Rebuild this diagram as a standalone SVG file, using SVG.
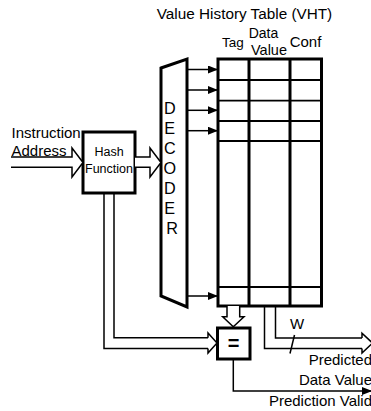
<svg xmlns="http://www.w3.org/2000/svg" width="371" height="411" viewBox="0 0 371 411">
<style>
text{font-family:"Liberation Sans",Arial,sans-serif;fill:#000}
.thick{fill:none;stroke:#000;stroke-width:3}
.thin{fill:none;stroke:#000;stroke-width:1.5}
.row{fill:none;stroke:#000;stroke-width:1.8}
.hollow{fill:#fff;stroke:#000;stroke-width:1.5;stroke-linejoin:miter}
</style>
<defs>
<marker id="ah" markerWidth="10" markerHeight="8" refX="10" refY="4" orient="auto" markerUnits="userSpaceOnUse">
<path d="M0,0 L10,4 L0,8 Z" fill="#000"/>
</marker>
</defs>
<rect width="371" height="411" fill="#fff"/>
<text x="244.5" y="19" font-size="15.3" text-anchor="middle">Value History Table (VHT)</text>
<g id="vht">
<text x="233" y="47" font-size="13.5" text-anchor="middle">Tag</text>
<text x="263.5" y="38" font-size="14" text-anchor="middle">Data</text>
<text x="269" y="55" font-size="14.5" text-anchor="middle">Value</text>
<text x="305.5" y="47" font-size="15" text-anchor="middle">Conf</text>
<line class="row" x1="218" y1="80" x2="321.5" y2="80"/>
<line class="row" x1="218" y1="100.7" x2="321.5" y2="100.7"/>
<line class="row" x1="218" y1="121" x2="321.5" y2="121"/>
<line class="row" x1="218" y1="141" x2="321.5" y2="141"/>
<line class="row" x1="218" y1="287" x2="321.5" y2="287"/>
<line class="thick" x1="249" y1="59" x2="249" y2="306"/>
<line class="thick" x1="290" y1="59" x2="290" y2="306"/>
<rect class="thick" x="218" y="59" width="103.5" height="247"/>
</g>
<g id="decoder">
<polygon class="thick" points="161,68 187,59 187,307 161,296"/>
<text font-size="16.2" text-anchor="middle">
<tspan x="172" y="113.5">D</tspan>
<tspan x="172" y="133.5">E</tspan>
<tspan x="172" y="153.5">C</tspan>
<tspan x="172" y="173.5">O</tspan>
<tspan x="172" y="193.5">D</tspan>
<tspan x="172" y="213.5">E</tspan>
<tspan x="172" y="233.5">R</tspan>
</text>
</g>
<g id="hash">
<rect class="thick" x="83" y="132" width="52" height="61"/>
<text x="109" y="156" font-size="12.5" text-anchor="middle">Hash</text>
<text x="109" y="172.5" font-size="12.5" text-anchor="middle">Function</text>
</g>
<g id="compare">
<rect class="thick" x="217.5" y="328" width="32.5" height="31"/>
<text x="233.5" y="349.5" font-size="20" font-weight="bold" text-anchor="middle">=</text>
</g>
<g id="labels">
<text x="11.5" y="138.3" font-size="15">Instruction</text>
<text x="11.5" y="155.5" font-size="15">Address</text>
<text x="297" y="328.5" font-size="15" text-anchor="middle">W</text>
<text x="372" y="364.5" font-size="15" text-anchor="end">Predicted</text>
<text x="372" y="384.5" font-size="15" text-anchor="end">Data Value</text>
<text x="372" y="406" font-size="15" text-anchor="end">Prediction Valid</text>
</g>
<g id="connectors">
<line class="thin" x1="187" y1="69.5" x2="218" y2="69.5" marker-end="url(#ah)"/>
<line class="thin" x1="187" y1="90" x2="218" y2="90" marker-end="url(#ah)"/>
<line class="thin" x1="187" y1="110.3" x2="218" y2="110.3" marker-end="url(#ah)"/>
<line class="thin" x1="187" y1="130.7" x2="218" y2="130.7" marker-end="url(#ah)"/>
<line class="thin" x1="187" y1="296" x2="218" y2="296" marker-end="url(#ah)"/>
<path class="hollow" d="M11,157 H72 V148 L83,162.5 L72,177 V167.3 H11"/>
<path class="hollow" d="M135,157 H150 V148 L161,162.5 L150,177 V167.3 H135"/>
<path class="thin" d="M104,193 V348.5 H208"/>
<path class="thin" d="M114,193 V337.7 H208"/>
<path class="hollow" d="M208,337.7 V333 L217,343 L208,353 V348.5"/>
<path class="hollow" d="M227,306 V316.7 H222.7 L233.3,326.7 L244,316.7 H239.7 V306"/>
<path class="thin" d="M264.5,306 V348.5 H362"/>
<path class="thin" d="M275.5,306 V338 H362"/>
<path class="hollow" d="M362,338 V333.3 L372.5,343 L362,353 V348.5"/>
<line class="thin" x1="294.5" y1="335" x2="290" y2="353.5"/>
<path class="thin" d="M233.3,359 V391 H372" marker-end="url(#ah)"/>
</g>
</svg>
